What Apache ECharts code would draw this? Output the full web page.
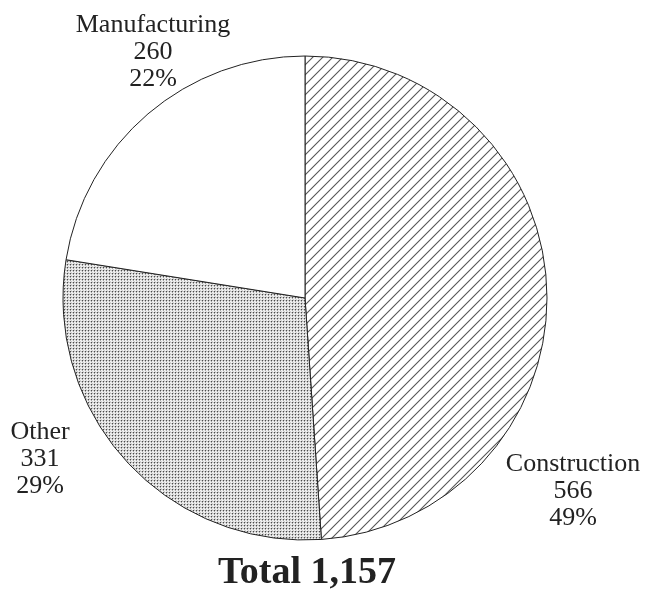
<!DOCTYPE html>
<html>
<head>
<meta charset="utf-8">
<script src="https://cdn.jsdelivr.net/npm/echarts@6/dist/echarts.min.js"></script>
<style>
  html, body { margin: 0; padding: 0; background: #fff; }
  #chart { width: 649px; height: 592px; }
</style>
</head>
<body>
<div id="chart"></div>
<script>
// data
const sectors = ['Construction', 'Other', 'Manufacturing']
const counts = [566, 331, 260]

// label anchor points (layout only)
const labelPos = [[573, 491], [40, 459], [153, 52]]

function hatchPattern() {
  const c = document.createElement('canvas')
  c.width = 10
  c.height = 10
  const ctx = c.getContext('2d')
  ctx.fillStyle = '#fff'
  ctx.fillRect(0, 0, 10, 10)
  ctx.strokeStyle = '#555'
  ctx.lineWidth = 1.1
  ctx.beginPath()
  ctx.moveTo(-1, 11); ctx.lineTo(11, -1)
  ctx.moveTo(-11, 11); ctx.lineTo(11, -11)
  ctx.moveTo(-1, 21); ctx.lineTo(21, -1)
  ctx.stroke()
  return c
}

function dotPattern() {
  const c = document.createElement('canvas')
  c.width = 3
  c.height = 3
  const ctx = c.getContext('2d')
  ctx.fillStyle = '#f6f6f6'
  ctx.fillRect(0, 0, 3, 3)
  const px = (x, y, col) => { ctx.fillStyle = col; ctx.fillRect(x, y, 1, 1) }
  px(1, 0, '#4a4a4a'); px(1, 1, '#a8a8a8'); px(1, 2, '#e4e4e4')
  px(0, 0, '#c8c8c8'); px(2, 0, '#c8c8c8')
  px(0, 1, '#e8e8e8'); px(2, 2, '#d0d0d0')
  return c
}

const fills = [
  { image: hatchPattern(), repeat: 'repeat' },
  { image: dotPattern(), repeat: 'repeat' },
  '#ffffff'
]

const total = counts.reduce((a, b) => a + b, 0)
const chart = echarts.init(document.getElementById('chart'))

chart.setOption({
  animation: false,
  title: {
    text: 'Total ' + total.toLocaleString('en-US'),
    left: 307,
    textAlign: 'center',
    top: 554,
    padding: 0,
    textStyle: {
      fontFamily: 'Liberation Serif',
      fontSize: 38,
      fontWeight: 'bold',
      color: '#222',
      lineHeight: 38
    }
  },
  series: [{
    type: 'pie',
    center: [305, 298],
    radius: 242,
    startAngle: 90,
    clockwise: true,
    percentPrecision: 0,
    data: sectors.map((name, i) => ({
      name: name,
      value: counts[i],
      itemStyle: { color: fills[i] }
    })),
    itemStyle: {
      borderColor: '#222',
      borderWidth: 1
    },
    label: {
      show: true,
      position: 'outside',
      formatter: '{b}\n{c}\n{d}%',
      fontFamily: 'Liberation Serif',
      fontSize: 26,
      lineHeight: 27,
      color: '#222',
      align: 'center',
      overflow: 'none',
      width: 200
    },
    labelLine: { show: false },
    labelLayout: function (params) {
      const p = labelPos[params.dataIndex]
      return { x: p[0], y: p[1], align: 'center', verticalAlign: 'middle' }
    },
    emphasis: { disabled: true }
  }]
})
</script>
</body>
</html>
